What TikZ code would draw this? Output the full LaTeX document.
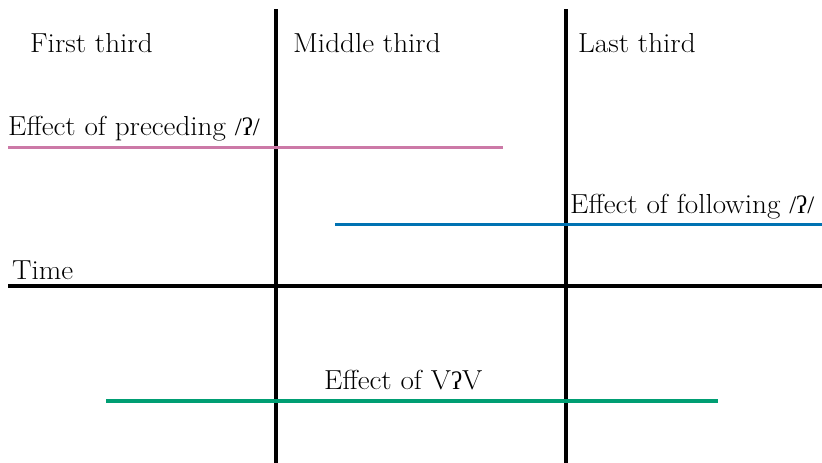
\documentclass[tikz,border=0pt]{standalone}
\usepackage{fontspec}
\setmainfont{Latin Modern Roman}[FakeStretch=1.06]
\newfontfamily\ipafont{Liberation Serif}
\definecolor{pinkline}{HTML}{CC79A7}
\definecolor{blueline}{HTML}{0072B2}
\definecolor{greenline}{HTML}{009E73}
\newcommand{\glot}{{\ipafont\fontsize{25}{30}\selectfont ʔ}}
\newcommand{\phglot}{{\ipafont\fontsize{25}{30}\selectfont /ʔ/}}
\tikzset{
  lbl/.style={anchor=base west, inner sep=0pt, font=\fontsize{27.5}{33}\selectfont},
  axis/.style={line width=3.5pt, black},
  effect/.style={line width=3.5pt}
}
\begin{document}
\begin{tikzpicture}[x=1pt,y=-1pt]
\useasboundingbox (0,0) rectangle (822,463);
% coordinates
\coordinate (v1t) at (276,9);
\coordinate (v1b) at (276,463);
\coordinate (v2t) at (566,9);
\coordinate (v2b) at (566,463);
\coordinate (tl) at (8,286);
\coordinate (tr) at (822,286);
\coordinate (p1) at (8,147.5);
\coordinate (p2) at (503,147.5);
\coordinate (b1) at (335,224.3);
\coordinate (b2) at (822,224.3);
\coordinate (g1) at (106,401);
\coordinate (g2) at (718,401);
% axes
\draw[axis] (v1t) -- (v1b);
\draw[axis] (v2t) -- (v2b);
\draw[axis] (tl) -- (tr);
% effects
\draw[effect, pinkline] (p1) -- (p2);
\draw[effect, blueline] (b1) -- (b2);
\draw[effect, greenline] (g1) -- (g2);
% labels
\node[lbl] (first) at (30,52) {First third};
\node[lbl] (middle) at (293,52) {Middle third};
\node[lbl] (last) at (578,52) {Last third};
\node[lbl] (prec) at (8,135) {Effect of preceding \phglot};
\node[lbl] (foll) at (570,213) {Effect of following \phglot};
\node[lbl] (time) at (12,279) {Time};
\node[lbl] (vgv) at (324,389) {Effect of V\glot V};
\end{tikzpicture}
\end{document}
